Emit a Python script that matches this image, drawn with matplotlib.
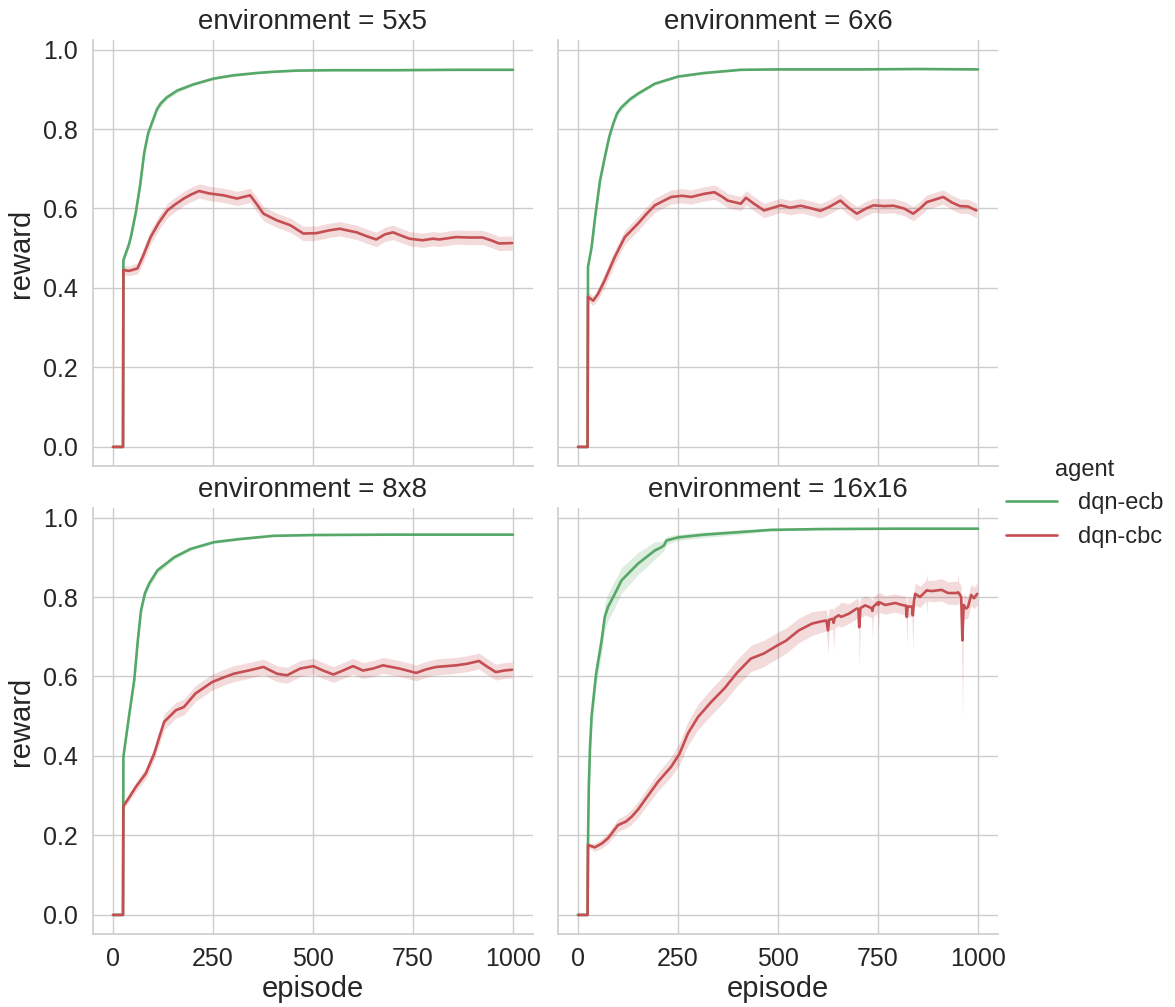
import numpy as np
import matplotlib
matplotlib.use("Agg")
import matplotlib.pyplot as plt
import seaborn as sns

# ---- data (episode, mean reward, ci half width) ----
envs = ["5x5", "6x6", "8x8", "16x16"]
agents = ["dqn-ecb", "dqn-cbc"]

# 5x5
ep_5_ecb = [0, 25, 26, 40, 45, 57, 68, 78, 88, 99, 110, 119, 135, 161, 200, 252, 300, 360, 400, 459, 550, 700, 850, 1000]
rw_5_ecb = [0, 0, 0.47, 0.51, 0.53, 0.59, 0.66, 0.74, 0.79, 0.82, 0.85, 0.864, 0.88, 0.897, 0.912, 0.927, 0.935, 0.941, 0.944, 0.947, 0.948, 0.948, 0.949, 0.949]
hw_5_ecb = [0, 0, 0.006, 0.008, 0.01, 0.012, 0.012, 0.012, 0.01, 0.01, 0.008, 0.008, 0.006, 0.005, 0.004, 0.003, 0.003, 0.002, 0.002, 0.002, 0.002, 0.002, 0.002, 0.002]
ep_5_cbc = [0, 25, 26, 40, 61, 75, 94, 115, 136, 155, 177, 195, 215, 240, 277, 310, 330, 343, 360, 376, 410, 443, 476, 509, 540, 567, 590, 609, 635, 658, 680, 700, 720, 741, 774, 800, 816, 857, 890, 924, 945, 965, 998]
rw_5_cbc = [0, 0, 0.445, 0.443, 0.449, 0.48, 0.528, 0.565, 0.595, 0.61, 0.625, 0.635, 0.644, 0.638, 0.633, 0.625, 0.63, 0.633, 0.61, 0.587, 0.57, 0.558, 0.537, 0.538, 0.545, 0.549, 0.544, 0.54, 0.53, 0.522, 0.535, 0.54, 0.532, 0.524, 0.52, 0.524, 0.522, 0.528, 0.527, 0.527, 0.52, 0.512, 0.513]
hw_5_cbc = [0, 0, 0.012, 0.012, 0.014] + [0.018] * 38

# 6x6
ep_6_ecb = [0, 24, 25, 34, 43, 55, 67, 78, 88, 98, 109, 130, 150, 192, 250, 316, 407, 500, 700, 850, 1000]
rw_6_ecb = [0, 0, 0.453, 0.503, 0.58, 0.67, 0.729, 0.78, 0.813, 0.84, 0.855, 0.875, 0.889, 0.914, 0.932, 0.941, 0.949, 0.95, 0.95, 0.951, 0.95]
hw_6_ecb = [0, 0, 0.006, 0.01, 0.012, 0.012, 0.012, 0.01, 0.01, 0.008, 0.008, 0.006, 0.005, 0.004, 0.003, 0.003, 0.002, 0.002, 0.002, 0.002, 0.002]
ep_6_cbc = [0, 24, 25, 38, 50, 67, 92, 117, 150, 170, 192, 233, 260, 283, 316, 341, 360, 374, 407, 420, 440, 465, 507, 530, 557, 585, 606, 630, 656, 675, 697, 720, 739, 765, 789, 815, 838, 855, 872, 913, 935, 955, 975, 996]
rw_6_cbc = [0, 0, 0.378, 0.368, 0.385, 0.42, 0.478, 0.528, 0.562, 0.585, 0.608, 0.629, 0.632, 0.629, 0.637, 0.641, 0.63, 0.62, 0.612, 0.627, 0.612, 0.595, 0.608, 0.602, 0.607, 0.6, 0.594, 0.605, 0.62, 0.603, 0.587, 0.6, 0.608, 0.606, 0.607, 0.6, 0.587, 0.6, 0.616, 0.629, 0.615, 0.606, 0.605, 0.595]
hw_6_cbc = [0, 0, 0.012, 0.012, 0.014] + [0.018] * 39

# 8x8
ep_8_ecb = [0, 25, 26, 40, 53, 62, 70, 80, 90, 111, 153, 194, 252, 318, 401, 500, 700, 1000]
rw_8_ecb = [0, 0, 0.398, 0.5, 0.59, 0.69, 0.766, 0.81, 0.833, 0.867, 0.9, 0.921, 0.938, 0.946, 0.954, 0.956, 0.957, 0.957]
hw_8_ecb = [0, 0, 0.006, 0.01, 0.012, 0.012, 0.012, 0.01, 0.01, 0.008, 0.005, 0.004, 0.003, 0.003, 0.002, 0.002, 0.002, 0.002]
ep_8_cbc = [0, 25, 26, 40, 57, 82, 103, 115, 128, 157, 177, 206, 248, 275, 302, 343, 376, 410, 435, 468, 501, 525, 551, 575, 600, 625, 650, 675, 716, 758, 783, 808, 857, 885, 915, 935, 957, 978, 998]
rw_8_cbc = [0, 0, 0.274, 0.295, 0.322, 0.356, 0.406, 0.445, 0.486, 0.515, 0.523, 0.557, 0.586, 0.597, 0.607, 0.616, 0.624, 0.607, 0.603, 0.62, 0.626, 0.615, 0.605, 0.615, 0.626, 0.615, 0.62, 0.628, 0.62, 0.609, 0.618, 0.624, 0.628, 0.632, 0.639, 0.625, 0.611, 0.615, 0.617]
hw_8_cbc = [0, 0, 0.008, 0.01, 0.012, 0.014, 0.016, 0.018] + [0.02] * 31

# 16x16
ep_16_ecb = [0, 24, 25, 27, 30, 34, 45, 59, 67, 75, 88, 109, 150, 192, 208, 215, 221, 250, 316, 399, 482, 606, 800, 1000]
rw_16_ecb = [0, 0, 0.18, 0.32, 0.42, 0.5, 0.605, 0.69, 0.75, 0.775, 0.8, 0.842, 0.884, 0.917, 0.925, 0.93, 0.942, 0.95, 0.957, 0.963, 0.969, 0.971, 0.972, 0.972]
hw_16_ecb = [0, 0, 0.01, 0.02, 0.025, 0.03, 0.03, 0.032, 0.034, 0.034, 0.034, 0.032, 0.028, 0.022, 0.015, 0.012, 0.01, 0.008, 0.007, 0.006, 0.003, 0.002, 0.002, 0.002]
ep_16_cbc = [0, 24, 25, 42, 60, 75, 100, 120, 134, 150, 167, 200, 233, 254, 275, 300, 333, 366, 399, 432, 465, 498, 520, 552, 585, 605, 621, 625, 628, 637, 639, 642, 652, 658, 677, 697, 701, 703, 706, 718, 734, 736, 738, 749, 751, 753, 768, 793, 810, 820, 822, 824, 835, 837, 840, 843, 855, 870, 872, 874, 885, 909, 925, 948, 950, 952, 958, 961, 964, 970, 975, 983, 990, 998]
rw_16_cbc = [0, 0, 0.176, 0.17, 0.18, 0.193, 0.226, 0.235, 0.247, 0.265, 0.289, 0.335, 0.373, 0.406, 0.457, 0.498, 0.536, 0.57, 0.611, 0.645, 0.658, 0.678, 0.69, 0.716, 0.733, 0.738, 0.741, 0.716, 0.743, 0.745, 0.735, 0.748, 0.754, 0.75, 0.758, 0.771, 0.77, 0.724, 0.772, 0.779, 0.772, 0.765, 0.775, 0.786, 0.78, 0.787, 0.78, 0.785, 0.78, 0.778, 0.75, 0.776, 0.776, 0.754, 0.79, 0.808, 0.8, 0.815, 0.817, 0.816, 0.815, 0.818, 0.81, 0.81, 0.812, 0.81, 0.8, 0.691, 0.78, 0.771, 0.775, 0.805, 0.797, 0.808]
lo_16_cbc = [0, 0, 0.17, 0.16, 0.168, 0.18, 0.21, 0.218, 0.228, 0.245, 0.268, 0.312, 0.348, 0.378, 0.427, 0.466, 0.503, 0.537, 0.578, 0.612, 0.625, 0.645, 0.658, 0.685, 0.703, 0.71, 0.714, 0.657, 0.716, 0.718, 0.665, 0.722, 0.728, 0.724, 0.733, 0.746, 0.745, 0.624, 0.747, 0.755, 0.748, 0.691, 0.75, 0.76, 0.72, 0.762, 0.757, 0.762, 0.757, 0.754, 0.673, 0.752, 0.75, 0.665, 0.765, 0.78, 0.773, 0.79, 0.758, 0.79, 0.788, 0.79, 0.782, 0.78, 0.785, 0.783, 0.772, 0.49, 0.745, 0.745, 0.748, 0.778, 0.77, 0.78]
hi_16_cbc = [0, 0, 0.182, 0.18, 0.192, 0.206, 0.242, 0.252, 0.266, 0.285, 0.31, 0.358, 0.398, 0.434, 0.487, 0.53, 0.569, 0.603, 0.644, 0.678, 0.691, 0.711, 0.722, 0.747, 0.763, 0.766, 0.768, 0.745, 0.77, 0.772, 0.765, 0.774, 0.78, 0.787, 0.783, 0.796, 0.795, 0.772, 0.797, 0.803, 0.796, 0.79, 0.8, 0.81, 0.805, 0.812, 0.803, 0.808, 0.803, 0.802, 0.78, 0.8, 0.8, 0.785, 0.815, 0.835, 0.827, 0.842, 0.858, 0.842, 0.842, 0.846, 0.838, 0.84, 0.856, 0.838, 0.828, 0.77, 0.81, 0.8, 0.802, 0.832, 0.824, 0.836]

series = {
    "5x5": [(ep_5_ecb, rw_5_ecb, hw_5_ecb, None), (ep_5_cbc, rw_5_cbc, hw_5_cbc, None)],
    "6x6": [(ep_6_ecb, rw_6_ecb, hw_6_ecb, None), (ep_6_cbc, rw_6_cbc, hw_6_cbc, None)],
    "8x8": [(ep_8_ecb, rw_8_ecb, hw_8_ecb, None), (ep_8_cbc, rw_8_cbc, hw_8_cbc, None)],
    "16x16": [(ep_16_ecb, rw_16_ecb, hw_16_ecb, None), (ep_16_cbc, rw_16_cbc, lo_16_cbc, hi_16_cbc)],
}

x_ticks = [0, 250, 500, 750, 1000]
y_ticks = [0.0, 0.2, 0.4, 0.6, 0.8, 1.0]

sns.set_theme(style="whitegrid")
plt.rcParams['font.family'] = ['Liberation Sans', 'DejaVu Sans']
plt.rcParams['text.color'] = '.15'
colors = ["#55A868", "#C44E52"]

fig = plt.figure(figsize=(11.75, 10.07), dpi=100)
W, H = 1175.0, 1007.0
cols = [(93, 533), (558, 998)]
rows = [(40, 466), (508, 934)]

axes = []
for i, env in enumerate(envs):
    r, c = divmod(i, 2)
    x0, x1 = cols[c]
    y0, y1 = rows[r]
    ax = fig.add_axes([x0 / W, 1 - y1 / H, (x1 - x0) / W, (y1 - y0) / H])
    axes.append(ax)
    for (data, col, name) in zip(series[env], colors, agents):
        ep, rw, a, b = data
        ep = np.array(ep); rw = np.array(rw); a = np.array(a)
        if b is None:
            lo, hi = rw - a, rw + a
        else:
            lo, hi = a, np.array(b)
        ax.fill_between(ep, lo, hi, color=col, alpha=0.2, linewidth=0)
        ax.plot(ep, rw, color=col, lw=1.9, label=name)
    ax.set_xlim(-50, 1050)
    ax.set_ylim(-0.048, 1.024)
    ax.set_xticks(x_ticks)
    ax.set_yticks(y_ticks)
    ax.set_yticklabels(["%.1f" % v for v in y_ticks])
    ax.grid(True, color='.8', lw=1)
    for s in ["top", "right"]:
        ax.spines[s].set_visible(False)
    for s in ["left", "bottom"]:
        ax.spines[s].set_color('.8')
        ax.spines[s].set_linewidth(1.2)
    ax.tick_params(axis='both', length=0, labelsize=18, colors='.15')
    ax.tick_params(axis='y', pad=11)
    ax.tick_params(axis='x', pad=9)
    ax.set_title("environment = %s" % env, fontsize=20, pad=8, color='.15')
    if c == 1:
        ax.tick_params(axis='y', labelleft=False)
    else:
        ax.set_ylabel("reward", fontsize=21, color='.15', labelpad=6)
    if r == 0:
        ax.tick_params(axis='x', labelbottom=False)
    else:
        ax.set_xlabel("episode", fontsize=21, color='.15', labelpad=3)

handles, labels = axes[0].get_legend_handles_labels()
leg = fig.legend(handles, labels, title="agent", loc="center left",
                 bbox_to_anchor=(0.838, 0.5), frameon=False, fontsize=17,
                 title_fontsize=17, handlelength=2.15, handletextpad=0.9)
for line in leg.get_lines():
    line.set_linewidth(1.9)

fig.savefig("out.png", dpi=100)
